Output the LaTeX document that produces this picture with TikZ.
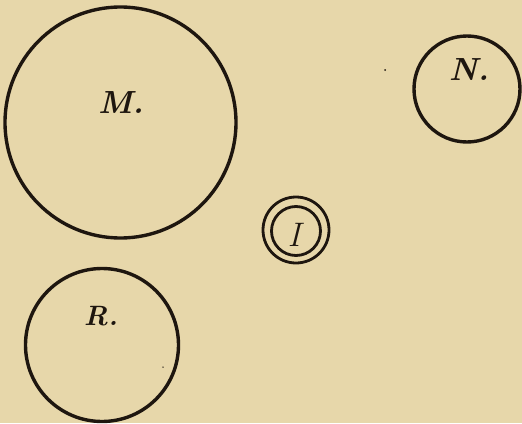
\documentclass[tikz,border=0pt]{standalone}
\usepackage{tikz}
\definecolor{paper}{RGB}{231,215,170}
\definecolor{ink}{RGB}{30,22,15}
\tikzset{
  ring/.style={draw=ink, line width=3.4pt, circle, inner sep=0pt},
  lbl/.style={text=ink, font=\fontsize{32}{32}\selectfont\bfseries\itshape, inner sep=0pt},
  speck/.style={fill=ink, circle, inner sep=0pt, minimum size=2pt}
}
\begin{document}
\begin{tikzpicture}[x=1pt,y=-1pt]
  \fill[paper] (0,0) rectangle (522,423);
  \useasboundingbox (0,0) rectangle (522,423);
  \node[ring, minimum size=231pt] (M) at (120.5,122.5) {};
  \node[ring, minimum size=106pt] (N) at (467,89) {};
  \node[ring, minimum size=153pt] (R) at (102,345) {};
  \node[ring, minimum size=66pt, line width=2.8pt] (Io) at (296,230) {};
  \node[ring, minimum size=49pt, line width=2.8pt] (Ii) at (296,231) {};
  \node[lbl] (Ml) at (121,103) {M.};
  \node[lbl] (Nl) at (469,70) {N.};
  \node[lbl, font=\fontsize{28}{28}\selectfont\bfseries\itshape] (Rl) at (101,316) {R.};
  \node[lbl, font=\fontsize{34}{34}\selectfont\itshape] (Il) at (294,235) {I};
  \node[speck] (s1) at (385,70) {};
  \node[speck, minimum size=1.5pt] (s2) at (163,367) {};
\end{tikzpicture}
\end{document}
